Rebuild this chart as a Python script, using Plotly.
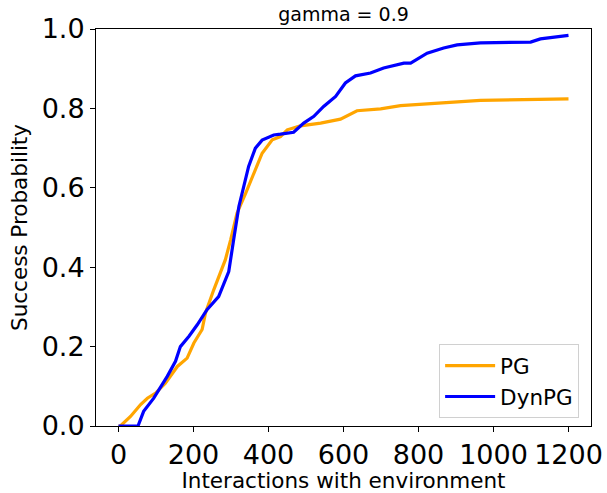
import plotly.graph_objects as go

# Data
pg_x = [0, 5, 32, 59, 77, 99, 125, 157, 183, 201, 223, 232, 254, 272, 285, 299, 316, 339, 361, 383, 410, 432, 450, 485, 539, 592, 636, 699, 752, 876, 965, 1200]
pg_y = [0.0, 0.0, 0.024, 0.054, 0.07, 0.083, 0.108, 0.15, 0.171, 0.209, 0.243, 0.285, 0.343, 0.385, 0.419, 0.469, 0.536, 0.586, 0.637, 0.687, 0.721, 0.729, 0.746, 0.756, 0.763, 0.773, 0.794, 0.799, 0.807, 0.814, 0.820, 0.824]

dyn_x = [0, 52, 67, 94, 130, 152, 165, 188, 210, 236, 267, 294, 307, 321, 347, 365, 383, 414, 432, 467, 494, 521, 547, 579, 605, 632, 672, 707, 761, 779, 823, 867, 903, 965, 1099, 1125, 1200]
dyn_y = [0.0, 0.0, 0.037, 0.07, 0.125, 0.163, 0.2, 0.226, 0.255, 0.293, 0.326, 0.389, 0.469, 0.553, 0.654, 0.7, 0.72, 0.733, 0.735, 0.740, 0.763, 0.78, 0.805, 0.83, 0.864, 0.882, 0.889, 0.902, 0.914, 0.914, 0.939, 0.952, 0.96, 0.965, 0.967, 0.975, 0.984]

x_ticks = [0, 200, 400, 600, 800, 1000, 1200]
y_ticks = [0.0, 0.2, 0.4, 0.6, 0.8, 1.0]

FONT = "DejaVu Sans"

W, H = 607, 493

fig = go.Figure()
fig.add_trace(go.Scatter(x=pg_x, y=pg_y, mode="lines", name="PG",
                         line=dict(color="#FFA500", width=3.2)))
fig.add_trace(go.Scatter(x=dyn_x, y=dyn_y, mode="lines", name="DynPG",
                         line=dict(color="#0000FF", width=3.2)))

axis_common = dict(showgrid=False, zeroline=False, showline=True, linecolor="black",
                   linewidth=1, mirror=True, ticks="outside", ticklen=5, tickwidth=1,
                   tickcolor="black", automargin=False,
                   tickfont=dict(family=FONT, size=27, color="black"))

fig.update_layout(
    width=W, height=H,
    margin=dict(l=96, r=16, t=29, b=67),
    plot_bgcolor="white", paper_bgcolor="white",
    font=dict(family=FONT, color="black"),
    title=dict(text="gamma = 0.9", x=343.5 / W, xanchor="center",
               y=1 - 14 / H, yanchor="middle", automargin=False,
               font=dict(family=FONT, size=19, color="black")),
    xaxis=dict(range=[-60, 1260], tickvals=x_ticks, ticktext=[str(v) for v in x_ticks],
               title=dict(text="Interactions with environment", standoff=3,
                          font=dict(family=FONT, size=21.5, color="black")),
               **axis_common),
    yaxis=dict(range=[0, 1], tickvals=y_ticks, ticktext=[f"{v:.1f}" for v in y_ticks],
               title=dict(text="Success Probability", standoff=8,
                          font=dict(family=FONT, size=21.5, color="black")),
               **axis_common),
    legend=dict(x=0.976, y=0.02, xanchor="right", yanchor="bottom",
                itemwidth=50,
                bgcolor="rgba(255,255,255,0.8)", bordercolor="#d0d0d0", borderwidth=1,
                font=dict(family=FONT, size=21.5, color="black")),
    showlegend=True,
)

fig.write_html("out.html", config={"displayModeBar": False},
               post_script="document.body.style.margin='0';")
